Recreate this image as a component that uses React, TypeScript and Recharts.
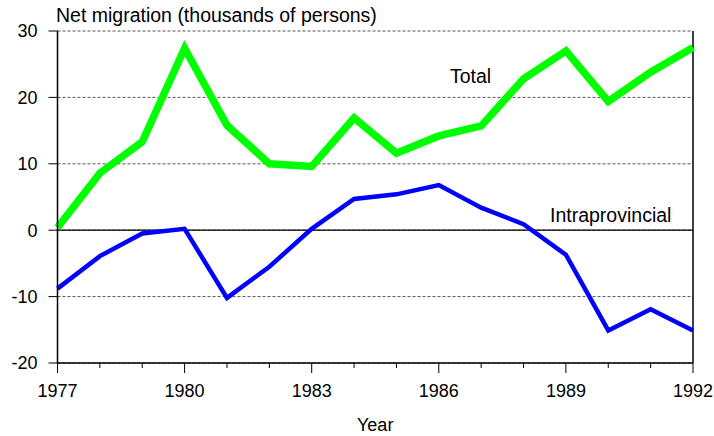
import React from 'react';
import { LineChart, Line, XAxis, YAxis, CartesianGrid, ReferenceLine, Customized } from 'recharts';

const years = [1977, 1978, 1979, 1980, 1981, 1982, 1983, 1984, 1985, 1986, 1987, 1988, 1989, 1990, 1991, 1992];
const totalValues = [0.4, 8.6, 13.3, 27.4, 15.8, 10.0, 9.6, 16.9, 11.6, 14.2, 15.7, 22.8, 27.0, 19.4, 23.8, 27.5];
const intraValues = [-8.8, -3.9, -0.5, 0.2, -10.2, -5.5, 0.2, 4.7, 5.4, 6.8, 3.4, 0.9, -3.7, -15.1, -11.9, -15.1];
const yTicks = [-20, -10, 0, 10, 20, 30];
const labeledYears = [1977, 1980, 1983, 1986, 1989, 1992];

const data = years.map((y, i) => ({ year: y, total: totalValues[i], intra: intraValues[i] }));

const FONT = '"Liberation Sans", Arial, sans-serif';

const XTick = (props: any) => {
  const { x, y, payload } = props;
  const major = labeledYears.includes(payload.value);
  return (
    <g>
      <line x1={x} x2={x} y1={y} y2={y + (major ? 10 : 5)} stroke="#000" strokeWidth={1} />
      {major && (
        <text x={x} y={y + 33.5} textAnchor="middle" fontSize={18} fontFamily={FONT} fill="#000">
          {payload.value}
        </text>
      )}
    </g>
  );
};

const Annotations = () => (
  <g fontFamily={FONT} fill="#000">
    <text x={56} y={21.5} fontSize={19.5}>Net migration (thousands of persons)</text>
    <text x={357} y={431} fontSize={18}>Year</text>
    <text x={450} y={82.5} fontSize={19.5}>Total</text>
    <text x={550} y={221.5} fontSize={19.5}>Intraprovincial</text>
  </g>
);

export default function App() {
  return (
    <div style={{ position: 'absolute', left: 0, top: 0, width: 714, height: 436, background: '#fff' }}>
      <LineChart width={714} height={436} data={data} margin={{ top: 31, right: 21, bottom: 43, left: 0 }}>
        <CartesianGrid vertical={false} horizontal={true} stroke="#555" strokeDasharray="3 2" />
        <XAxis
          dataKey="year"
          type="number"
          domain={[1977, 1992]}
          ticks={years}
          interval={0}
          height={30}
          tickSize={0}
          tickMargin={0}
          tickLine={false}
          axisLine={{ stroke: '#000', strokeWidth: 1.5 }}
          tick={<XTick />}
        />
        <YAxis
          type="number"
          domain={[-20, 30]}
          ticks={yTicks}
          interval={0}
          width={57.5}
          tickSize={9}
          tickMargin={11}
          tickLine={{ stroke: '#000' }}
          axisLine={{ stroke: '#000', strokeWidth: 1.5 }}
          tick={{ fontSize: 18, fontFamily: FONT, fill: '#000' }}
        />
        <ReferenceLine y={0} stroke="#000" strokeWidth={1.2} />
        <ReferenceLine x={1992} stroke="#000" strokeWidth={1.5} />
        <Line type="linear" dataKey="total" stroke="#00ff00" strokeWidth={7.5} dot={false} isAnimationActive={false} />
        <Line type="linear" dataKey="intra" stroke="#0000ff" strokeWidth={4.5} dot={false} isAnimationActive={false} />
        <Customized component={Annotations} />
      </LineChart>
    </div>
  );
}
